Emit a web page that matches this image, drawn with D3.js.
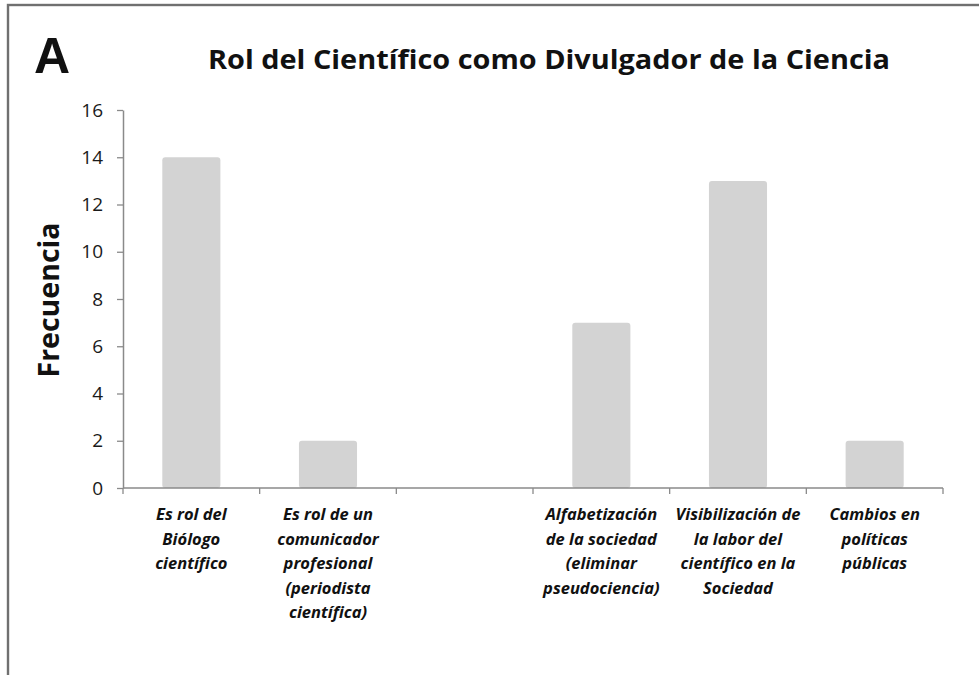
<!DOCTYPE html>
<html>
<head>
<meta charset="utf-8">
<script src="https://cdn.jsdelivr.net/npm/d3@7"></script>
<style>
  html, body { margin: 0; padding: 0; background: #fff; }
  svg { display: block; }
</style>
</head>
<body>
<svg id="chart" width="979" height="675"></svg>
<script>
// ---- data ----
const categories = ["c1", "c2", "c3", "c4", "c5", "c6"];
const values = [14, 2, 0, 7, 13, 2];
const categoryLabels = [
  ["Es rol del", "Biólogo", "científico"],
  ["Es rol de un", "comunicador", "profesional", "(periodista", "científica)"],
  [],
  ["Alfabetización", "de la sociedad", "(eliminar", "pseudociencia)"],
  ["Visibilización de", "la labor del", "científico en la", "Sociedad"],
  ["Cambios en", "políticas", "públicas"]
];
const yTicks = [0, 2, 4, 6, 8, 10, 12, 14, 16];
const panelLetter = "A";
const titleText = "Rol del Científico como Divulgador de la Ciencia";
const yTitle = "Frecuencia";

(function () {
// ---- layout ----
const svg = d3.select("#chart");
const mLeft = 123, mRight = 943, mTop = 110, mBottom = 488;

// frame
svg.append("rect")
  .attr("x", 8).attr("y", 5).attr("width", 1000).attr("height", 700)
  .attr("fill", "none").attr("stroke", "#707070").attr("stroke-width", 2.4);

const x = d3.scaleBand().domain(categories).range([mLeft, mRight]).padding(0);
const y = d3.scaleLinear().domain([0, 16]).range([mBottom, mTop]);

// bars
const barW = x.bandwidth() * 0.425;
svg.append("g").selectAll("rect")
  .data(categories.map((c, i) => ({ c, v: values[i] })).filter(d => d.v > 0))
  .join("rect")
  .attr("x", d => x(d.c) + (x.bandwidth() - barW) / 2)
  .attr("y", d => y(d.v))
  .attr("width", barW)
  .attr("height", d => y(0) - y(d.v))
  .attr("rx", 3)
  .attr("fill", "#d3d3d3");

// y axis
const yAxis = d3.axisLeft(y).tickValues(yTicks).tickSize(6).tickSizeOuter(0).tickPadding(14);
const gy = svg.append("g").attr("transform", `translate(${mLeft},0)`).call(yAxis);
gy.select(".domain").attr("stroke", "#8a8a8a").attr("stroke-width", 1.5);
gy.selectAll(".tick line").attr("stroke", "#8a8a8a").attr("stroke-width", 1.3);
gy.selectAll(".tick text")
  .attr("font-family", "'Open Sans', sans-serif")
  .attr("font-size", 19).attr("fill", "#1a1a1a");

// x axis: ticks at band boundaries
const boundaries = categories.map(c => x(c)).concat([mRight]);
const gx = svg.append("g");
gx.append("line").attr("x1", mLeft).attr("x2", mRight).attr("y1", mBottom).attr("y2", mBottom)
  .attr("stroke", "#8a8a8a").attr("stroke-width", 1.5);
gx.selectAll("line.tk").data(boundaries).join("line").attr("class", "tk")
  .attr("x1", d => d).attr("x2", d => d).attr("y1", mBottom).attr("y2", mBottom + 6)
  .attr("stroke", "#8a8a8a").attr("stroke-width", 1.3);

// x labels
categories.forEach((c, i) => {
  const t = svg.append("text")
    .attr("x", x(c) + x.bandwidth() / 2)
    .attr("y", 520)
    .attr("text-anchor", "middle")
    .attr("font-family", "'Open Sans', sans-serif")
    .attr("font-weight", "bold").attr("font-style", "italic")
    .attr("font-size", 16.5).attr("fill", "#111");
  categoryLabels[i].forEach((ln, j) => {
    t.append("tspan").attr("x", x(c) + x.bandwidth() / 2).attr("dy", j === 0 ? 0 : 24.5).text(ln);
  });
});

// y title
svg.append("text")
  .attr("transform", "translate(59,300) rotate(-90)")
  .attr("text-anchor", "middle")
  .attr("font-family", "'Open Sans', sans-serif")
  .attr("font-weight", "bold").attr("font-size", 28).attr("fill", "#111")
  .attr("textLength", 155).attr("lengthAdjust", "spacingAndGlyphs")
  .text(yTitle);

// panel letter
svg.append("text")
  .attr("x", 34).attr("y", 73)
  .attr("font-family", "'Liberation Sans', Arial, sans-serif")
  .attr("font-weight", "bold").attr("font-size", 50).attr("fill", "#111")
  .text(panelLetter);

// title
svg.append("text")
  .attr("x", 208).attr("y", 69)
  .attr("font-family", "'Open Sans', sans-serif")
  .attr("font-weight", "bold").attr("font-size", 27).attr("fill", "#111")
  .attr("textLength", 682).attr("lengthAdjust", "spacingAndGlyphs")
  .text(titleText);
})();
</script>
</body>
</html>
